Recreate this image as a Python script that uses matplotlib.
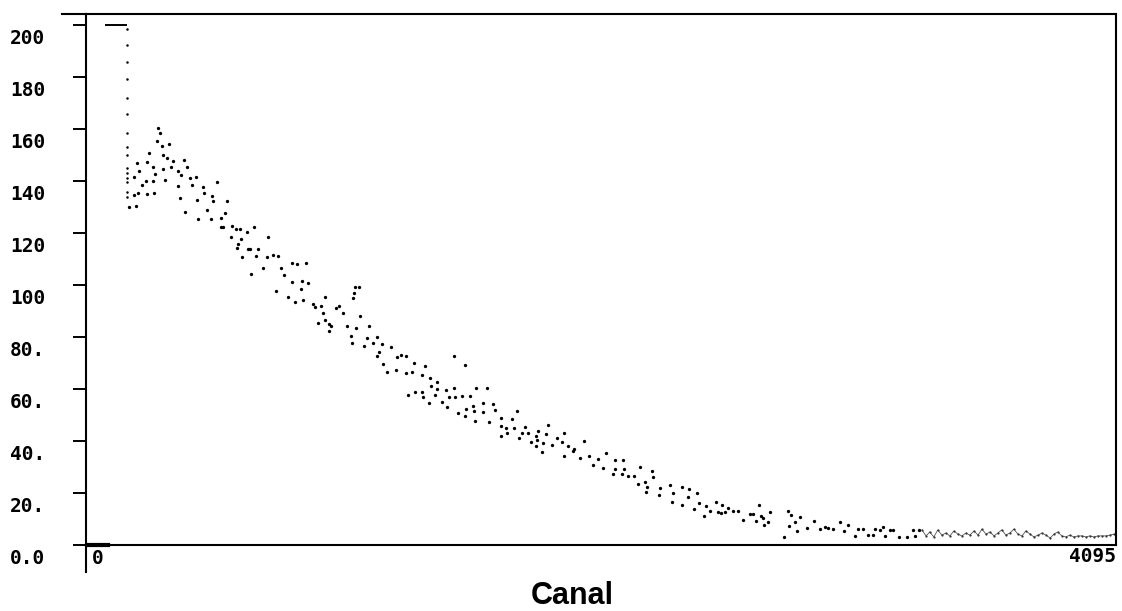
import numpy as np
import matplotlib
matplotlib.use("Agg")
import matplotlib.pyplot as plt
from matplotlib.transforms import blended_transform_factory

# saturated plateau and empty start of the spectrum
sat_canal = [72, 151]
sat_cuentas = [200, 200]
cero_canal = [0, 80]
cero_cuentas = [0, 0]

# vertical drop at the first channel after the plateau
pico_canal = [155] * 15
pico_cuentas = [198.5, 192.3, 185.8, 179.3, 172.0, 165.8, 158.6, 153.2, 150.1,
                145.1, 143.2, 141.3, 139.7, 135.9, 134.0]

# main body of the spectrum (channel, counts)
cuerpo = [
    (163, 130.1), (183, 134.7), (183, 141.7), (195, 147.0), (191, 130.5), (199, 135.5),
    (203, 144.0), (215, 138.6), (231, 140.1), (235, 135.1), (235, 147.4), (243, 150.9),
    (259, 145.5), (259, 140.1), (263, 135.5), (267, 142.8), (275, 155.5), (279, 160.5),
    (287, 158.5), (295, 153.6), (299, 150.1), (299, 144.7), (307, 140.5), (315, 149.0),
    (323, 154.3), (331, 145.5), (339, 147.8), (359, 144.0), (371, 142.4), (359, 138.2),
    (367, 133.6), (382, 148.2), (394, 145.5), (386, 128.2), (406, 141.3), (414, 138.6),
    (430, 141.7), (434, 132.8), (458, 137.8), (462, 135.5), (474, 129.0), (490, 125.5),
    (494, 134.4), (498, 132.4), (514, 139.7), (438, 125.5), (530, 125.9), (546, 127.8),
    (554, 132.1), (530, 122.1), (538, 122.1), (570, 118.6), (574, 122.5), (590, 121.7),
    (594, 114.4), (598, 115.6), (606, 121.7), (610, 117.5), (614, 110.9), (633, 120.2),
    (637, 114.0), (645, 114.0), (661, 122.1), (669, 111.3), (677, 114.0), (713, 110.9),
    (717, 118.6), (737, 111.7), (757, 111.3), (697, 106.7), (649, 104.4), (769, 106.7),
    (781, 103.7), (749, 97.5), (797, 95.2), (825, 93.3), (857, 94.1),
    (813, 108.6), (833, 107.9), (869, 108.6), (813, 101.0), (853, 101.4), (876, 100.6),
    (849, 98.3), (896, 92.5), (904, 91.4), (928, 91.8), (944, 95.2), (936, 89.4),
    (916, 85.2), (944, 86.4), (960, 84.8), (968, 84.1), (960, 82.2), (988, 91.0),
    (1000, 91.8), (1016, 89.4), (1060, 97.1), (1064, 99.4), (1080, 99.4), (1056, 94.8),
    (1084, 87.9), (1032, 84.1), (1068, 83.3), (1048, 80.2), (1052, 77.5), (1120, 84.1),
    (1112, 79.5), (1100, 76.4), (1135, 77.5), (1151, 79.9), (1171, 77.2), (1159, 74.1),
    (1151, 72.6), (1207, 76.0), (1175, 69.5), (1191, 66.4), (1231, 72.2), (1247, 72.9),
    (1267, 72.6), (1227, 67.2), (1267, 66.0), (1291, 66.4), (1299, 69.9), (1331, 65.3),
    (1343, 68.7), (1363, 64.1), (1367, 61.0), (1390, 62.6), (1390, 59.9), (1458, 72.6),
    (1502, 69.1), (1275, 57.6), (1303, 58.7), (1331, 58.7), (1335, 56.8), (1382, 57.6),
    (1359, 54.5), (1410, 54.9), (1426, 59.5), (1430, 53.0), (1438, 56.8), (1458, 60.3),
    (1462, 56.8), (1490, 57.2), (1522, 57.2), (1546, 60.3), (1590, 60.3), (1506, 52.2),
    (1534, 53.4), (1538, 51.4), (1474, 50.7), (1502, 49.5), (1574, 51.1), (1574, 54.5),
    (1614, 54.1), (1621, 51.8), (1542, 47.6), (1598, 47.2),
    (1645, 48.8), (1645, 45.7), (1645, 41.8), (1665, 44.9), (1669, 43.0), (1689, 48.4),
    (1697, 44.9), (1709, 51.4), (1717, 41.1), (1729, 43.0), (1741, 45.3), (1753, 43.0),
    (1765, 39.5), (1785, 41.8), (1785, 38.0), (1793, 43.8), (1789, 40.3), (1813, 39.2),
    (1809, 35.7), (1825, 42.6), (1833, 46.1), (1849, 38.4), (1868, 41.1), (1888, 39.5),
    (1896, 43.0), (1896, 34.2), (1912, 38.0), (1932, 36.1), (1936, 36.9), (1960, 33.4),
    (1976, 39.9), (1996, 34.2), (2012, 30.7), (2032, 33.0), (2052, 29.6), (2064, 35.3),
    (2092, 27.3), (2100, 32.6), (2100, 29.2), (2127, 27.3), (2131, 32.6), (2135, 29.2),
    (2151, 26.5), (2175, 26.5), (2191, 23.4), (2199, 29.9), (2219, 24.2), (2227, 22.3),
    (2223, 20.3), (2247, 28.4), (2251, 26.1), (2275, 19.2), (2279, 21.9), (2319, 23.0),
    (2327, 16.5), (2331, 20.0), (2367, 22.3), (2367, 15.4), (2394, 21.5), (2390, 18.4),
    (2414, 13.8), (2426, 20.0), (2434, 16.1),
    (2454, 11.1), (2462, 15.0), (2478, 13.1), (2502, 16.5), (2510, 12.7), (2522, 12.3),
    (2526, 15.4), (2538, 12.7), (2550, 14.2), (2570, 13.1), (2590, 13.1), (2610, 9.6),
    (2637, 11.9), (2649, 11.9), (2661, 9.2), (2673, 15.4), (2681, 11.1), (2689, 10.4),
    (2693, 7.7), (2709, 8.8), (2717, 12.7), (2773, 3.1), (2789, 13.1), (2801, 11.5),
    (2793, 7.3), (2817, 8.8), (2825, 5.4), (2837, 10.7), (2864, 6.5), (2892, 9.2),
    (2916, 6.1), (2936, 6.9), (2948, 6.5), (2968, 6.1), (2996, 8.8), (3012, 5.4),
    (3028, 7.7), (3056, 3.5), (3068, 6.1), (3088, 6.1), (3108, 3.8), (3127, 3.8),
    (3135, 6.1), (3155, 5.8), (3167, 6.9), (3175, 3.5), (3195, 5.8), (3207, 5.8),
    (3231, 3.1), (3263, 3.1), (3287, 5.8), (3295, 3.5), (3311, 5.8),
]
cuerpo_canal = [c for c, v in cuerpo]
cuerpo_cuentas = [v for c, v in cuerpo]

# noisy tail near zero
cola_canal = [3323, 3339, 3354, 3370, 3386, 3402, 3418, 3434, 3450, 3466, 3482, 3498,
              3514, 3530, 3546, 3562, 3578, 3594, 3610, 3625, 3641, 3657, 3673, 3689,
              3705, 3721, 3737, 3753, 3769, 3785, 3801, 3817, 3833, 3849, 3864, 3880,
              3896, 3912, 3928, 3944, 3960, 3976, 3992, 4008, 4024, 4040, 4056, 4072, 4088]
cola_cuentas = [5.8, 3.5, 5.0, 3.1, 5.8, 3.8, 4.6, 3.5, 5.4, 4.2, 3.5, 4.6,
                3.8, 5.4, 3.8, 6.1, 4.2, 5.0, 3.5, 4.6, 5.8, 3.8, 4.6, 6.1,
                4.2, 3.5, 5.4, 4.2, 3.1, 3.8, 4.6, 3.8, 2.7, 4.2, 5.0, 3.5,
                3.1, 3.8, 3.1, 3.5, 3.5, 3.1, 3.5, 3.1, 3.5, 3.5, 3.5, 3.8, 4.2]

yticks = [200, 180, 160, 140, 120, 100, 80, 60, 40, 20, 0]
ytick_labels = ["200", "180", "160", "140", "120", "100", "80.", "60.", "40.", "20.", "0.0"]

W, H = 1122, 611
fig = plt.figure(figsize=(W / 100, H / 100), dpi=100)
ax = fig.add_axes([86 / W, 1 - 545 / H, (1116 - 86) / W, (545 - 14) / H])
ax.set_xlim(-8, 4096)
ax.set_ylim(0, 204.2)

ax.plot(pico_canal, pico_cuentas, 'o', color='black', ms=1.8, mew=0)
ax.plot(cuerpo_canal, cuerpo_cuentas, 'o', color='black', ms=2.4, mew=0)
ax.plot(cola_canal, cola_cuentas, '-', color='#555555', lw=0.6)
ax.plot(cola_canal, cola_cuentas, 'o', color='#333333', ms=1.6, mew=0)
ax.plot(sat_canal, sat_cuentas, '-', color='black', lw=1.4)
ax.plot(cero_canal, cero_cuentas, '-', color='black', lw=3, clip_on=False)

for s in ax.spines.values():
    s.set_linewidth(1.5)
    s.set_color('black')

ax.set_xticks([])
ax.set_yticks(yticks)
ax.tick_params(axis='y', direction='out', length=9.5, width=1.4, labelleft=False)

# tick labels sit a bit under their ticks, flush left
tr = blended_transform_factory(fig.transFigure, ax.transData)
for v, lab in zip(yticks, ytick_labels):
    ax.text(10 / W, v - 1.6, lab, transform=tr, ha='left', va='top',
            family='DejaVu Sans Mono', fontweight='bold', fontsize=14)

ax.text(0.006, -0.008, "0", transform=ax.transAxes, ha='left', va='top',
        family='DejaVu Sans Mono', fontweight='bold', fontsize=14)
ax.text(1.0, -0.004, "4095", transform=ax.transAxes, ha='right', va='top',
        family='DejaVu Sans Mono', fontweight='bold', fontsize=14)

# left axis runs a little below zero, top line a little past the left axis
ax.plot([0, 0], [0, -0.05], transform=ax.transAxes, color='black', lw=1.5, clip_on=False)
ax.plot([-0.023, 0], [1, 1], transform=ax.transAxes, color='black', lw=1.5, clip_on=False)

fig.text(572 / W, 1 - 604 / H, "Canal", ha='center', va='baseline',
         family='Liberation Sans', fontweight='bold', fontsize=22)

fig.savefig("out.png", dpi=100)
